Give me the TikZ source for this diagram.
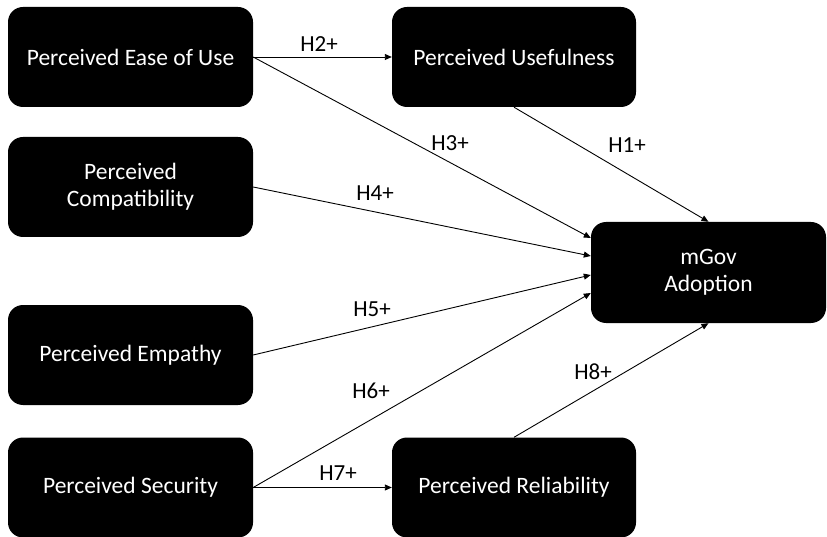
\documentclass[tikz,border=0pt]{standalone}
\usepackage{fontspec}
\setmainfont{Carlito}
\usetikzlibrary{arrows.meta,calc}
\begin{document}
\begin{tikzpicture}[x=1pt,y=-1pt,
  box/.style={fill=black,rounded corners=15pt,text=white,align=center,
    font=\fontsize{23.5}{27}\selectfont,inner sep=0pt},
  lbl/.style={font=\fontsize{23}{27}\selectfont,inner sep=0pt},
  conn/.style={-{Triangle[length=7pt,width=6pt]},line width=0.9pt}]
\useasboundingbox (0,0) rectangle (827,537);
\node[box,minimum width=245pt,minimum height=100pt] (peou) at (130.5,57) {Perceived Ease of Use};
\node[box,minimum width=244pt,minimum height=100pt] (pu) at (514,57) {Perceived Usefulness};
\node[box,minimum width=245pt,minimum height=100pt] (pc) at (130.5,187) {Perceived\\Compatibility};
\node[box,minimum width=235pt,minimum height=101pt] (mgov) at (708.5,272.5) {mGov\\Adoption};
\node[box,minimum width=245pt,minimum height=100pt] (pe) at (130.5,355) {Perceived Empathy};
\node[box,minimum width=245pt,minimum height=100pt] (ps) at (130.5,487.5) {Perceived Security};
\node[box,minimum width=244pt,minimum height=100pt] (pr) at (514,487.5) {Perceived Reliability};
\draw[conn] (peou.east) -- (pu.west);
\draw[conn] (peou.east) -- ($(mgov.west)+(0,-34.5)$);
\draw[conn] (pu.south) -- (mgov.north);
\draw[conn] (pc.east) -- ($(mgov.west)+(0,-16.5)$);
\draw[conn] (pe.east) -- ($(mgov.west)+(0,2.5)$);
\draw[conn] (ps.east) -- ($(mgov.west)+(0,20.5)$);
\draw[conn] (ps.east) -- (pr.west);
\draw[conn] (pr.north) -- (mgov.south);
\node[lbl] (h2) at (319,44) {H2+};
\node[lbl] (h3) at (450,143) {H3+};
\node[lbl] (h1) at (627,145) {H1+};
\node[lbl] (h4) at (375,193) {H4+};
\node[lbl] (h5) at (372,309) {H5+};
\node[lbl] (h6) at (371,391) {H6+};
\node[lbl] (h7) at (338,473) {H7+};
\node[lbl] (h8) at (593,372) {H8+};
\end{tikzpicture}
\end{document}
